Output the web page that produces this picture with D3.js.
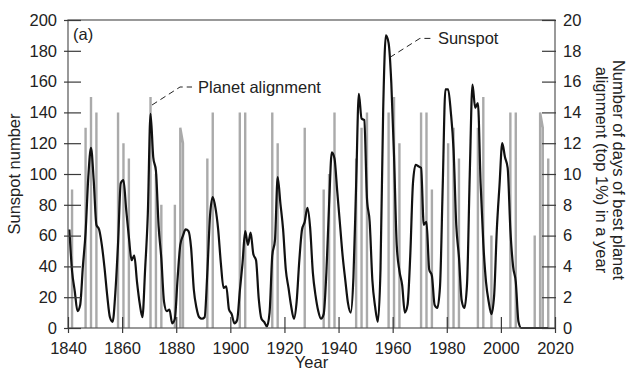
<!DOCTYPE html>
<html>
<head>
<meta charset="utf-8">
<script src="https://cdn.jsdelivr.net/npm/d3@7"></script>
<style>
  body { margin: 0; background: #fff; }
  svg text { font-family: "Liberation Sans", Arial, sans-serif; fill: #222; }
</style>
</head>
<body>
<svg id="chart" width="627" height="372"></svg>
<script>
// yearly sunspot number, one value per year starting 1840
const sunspotStart = 1840;
const sunspot = [
  64, 37, 24, 11, 15, 40, 62, 98, 117, 96,
  67, 64, 54, 39, 21, 7, 4, 23, 55, 94,
  96, 77, 59, 44, 47, 30, 16, 7, 38, 74,
  139, 111, 102, 66, 45, 17, 11, 12, 3, 6,
  32, 54, 60, 64, 63, 52, 25, 13, 7, 6,
  7, 36, 73, 85, 78, 64, 42, 26, 27, 12,
  9, 3, 5, 24, 42, 63, 54, 62, 48, 44,
  19, 6, 4, 1, 10, 47, 57, 98, 81, 64,
  38, 26, 14, 6, 17, 44, 64, 69, 78, 65,
  36, 21, 11, 6, 9, 36, 80, 114, 110, 89,
  68, 47, 31, 16, 10, 33, 93, 152, 136, 135,
  84, 69, 31, 14, 4, 38, 142, 190, 185, 159,
  112, 54, 37, 28, 10, 15, 47, 94, 106, 105,
  104, 67, 69, 38, 34, 15, 13, 27, 92, 155,
  155, 140, 116, 67, 46, 18, 13, 29, 100, 158,
  143, 146, 94, 55, 30, 17, 9, 21, 64, 93,
  120, 111, 104, 64, 40, 30, 4, 0, 0, 0,
  0, 0, 0, 0, 0, 0, 0, 0
];

// years with best planet alignment, and number of days in that year
const alignYears = [
  1841, 1846, 1848, 1850, 1858, 1860, 1862, 1870, 1872, 1874,
  1879, 1881, 1882, 1891, 1893, 1903, 1905, 1915, 1917, 1927,
  1934, 1936, 1938, 1946, 1948, 1950, 1958, 1960, 1962, 1970,
  1972, 1974, 1980, 1982, 1984, 1991, 1993, 1996, 2003, 2005,
  2012, 2014, 2015, 2017
];
const alignDays = [
  9, 13, 15, 14, 14, 12, 11, 15, 10, 8,
  8, 13, 12, 11, 14, 14, 14, 14, 12, 13,
  9, 10, 14, 11, 13, 14, 14, 15, 12, 14,
  14, 9, 12, 13, 11, 13, 15, 6, 14, 14,
  6, 14, 13, 11
];

const xTicks = d3.range(1840, 2021, 20);
const leftTicks = d3.range(0, 201, 20);
const rightTicks = d3.range(0, 21, 2);

const margin = {top: 20, right: 72, bottom: 44, left: 68};
const width = 627, height = 372;
const innerW = width - margin.left - margin.right;
const innerH = height - margin.top - margin.bottom;
const fontSize = 16.5;

const svg = d3.select("#chart");
const g = svg.append("g").attr("transform", `translate(${margin.left},${margin.top})`);

const x = d3.scaleLinear().domain([1840, 2020]).range([0, innerW]);
const yL = d3.scaleLinear().domain([0, 200]).range([innerH, 0]);
const yR = d3.scaleLinear().domain([0, 20]).range([innerH, 0]);

const axisColor = "#3a3a3a";

// planet alignment spikes (gray), drawn first
const alignPts = [];
alignYears.forEach((yr, i) => {
  const v = alignDays[i];
  const joinPrev = i > 0 && yr - alignYears[i - 1] === 1;
  const joinNext = i < alignYears.length - 1 && alignYears[i + 1] - yr === 1;
  if (!joinPrev) { alignPts.push(null); alignPts.push({yr: yr, v: 0}); }
  alignPts.push({yr: yr, v: v});
  if (!joinNext) alignPts.push({yr: yr, v: 0});
});
const alignLine = d3.line()
  .defined(d => d)
  .x(d => x(d.yr + 0.5))
  .y(d => yR(d.v));
g.append("path")
  .datum(alignPts)
  .attr("fill", "none")
  .attr("stroke", "#aaaaaa")
  .attr("stroke-width", 2.4)
  .attr("d", alignLine);

// sunspot line (black)
const sunLine = d3.line()
  .x((d, i) => x(sunspotStart + i + 0.5))
  .y(d => yL(d))
  .curve(d3.curveMonotoneX);
g.append("path")
  .datum(sunspot)
  .attr("fill", "none")
  .attr("stroke", "#111")
  .attr("stroke-width", 2.2)
  .attr("stroke-linejoin", "round")
  .attr("d", sunLine);

// frame
g.append("rect")
  .attr("width", innerW)
  .attr("height", innerH)
  .attr("fill", "none")
  .attr("stroke", "#555")
  .attr("stroke-width", 1.2);

// axes, ticks cross the frame
const left = g.append("g")
  .call(d3.axisLeft(yL).tickValues(leftTicks).tickSize(-13).tickPadding(11))
  .call(a => a.select(".domain").remove())
  .call(a => a.selectAll(".tick line").attr("x1", -4));
const right = g.append("g")
  .attr("transform", `translate(${innerW},0)`)
  .call(d3.axisRight(yR).tickValues(rightTicks).tickSize(-13).tickPadding(8))
  .call(a => a.select(".domain").remove())
  .call(a => a.selectAll(".tick line").attr("x1", 1));
const bottom = g.append("g")
  .attr("transform", `translate(0,${innerH})`)
  .call(d3.axisBottom(x).tickValues(xTicks).tickFormat(d3.format("d")).tickSize(5).tickPadding(9))
  .call(a => a.select(".domain").remove())
  .call(a => a.selectAll(".tick line").attr("y1", -11));

[left, right, bottom].forEach(a => {
  a.selectAll(".tick line").attr("stroke", axisColor).attr("stroke-width", 1.2);
  a.selectAll(".tick text").attr("font-size", fontSize).attr("fill", "#222")
    .attr("font-family", '"Liberation Sans", Arial, sans-serif');
});

// axis titles
svg.append("text")
  .attr("transform", `translate(20,${margin.top + innerH / 2}) rotate(-90)`)
  .attr("text-anchor", "middle")
  .attr("font-size", fontSize)
  .text("Sunspot number");

const rt = svg.append("text")
  .attr("transform", `translate(613,170) rotate(90)`)
  .attr("text-anchor", "middle")
  .attr("font-size", fontSize);
rt.append("tspan").attr("x", 0).attr("dy", 0).text("Number of days of best planet");
rt.append("tspan").attr("x", 0).attr("dy", 17.5).text("alignment (top 1%) in a year");

svg.append("text")
  .attr("x", margin.left + innerW / 2)
  .attr("y", 368)
  .attr("text-anchor", "middle")
  .attr("font-size", fontSize)
  .text("Year");

g.append("text")
  .attr("x", 5)
  .attr("y", 20)
  .attr("font-size", fontSize)
  .text("(a)");

// annotations with dashed leaders
function annotate(ax, ay, label, dx, dy) {
  const p = d3.path();
  p.moveTo(ax, ay);
  p.lineTo(ax + dx, ay + dy);
  p.lineTo(ax + dx + 12, ay + dy);
  g.append("path")
    .attr("d", p.toString())
    .attr("fill", "none")
    .attr("stroke", "#222")
    .attr("stroke-width", 1)
    .attr("stroke-dasharray", "6,4");
  g.append("text")
    .attr("x", ax + dx + 18)
    .attr("y", ay + dy + 5.5)
    .attr("font-size", fontSize)
    .text(label);
}
annotate(x(1870.5) + 1.5, yR(15) + 8, "Planet alignment", 28, -18);
annotate(x(1957.5) + 4, yL(190) + 22, "Sunspot", 30, -19);
</script>
</body>
</html>
